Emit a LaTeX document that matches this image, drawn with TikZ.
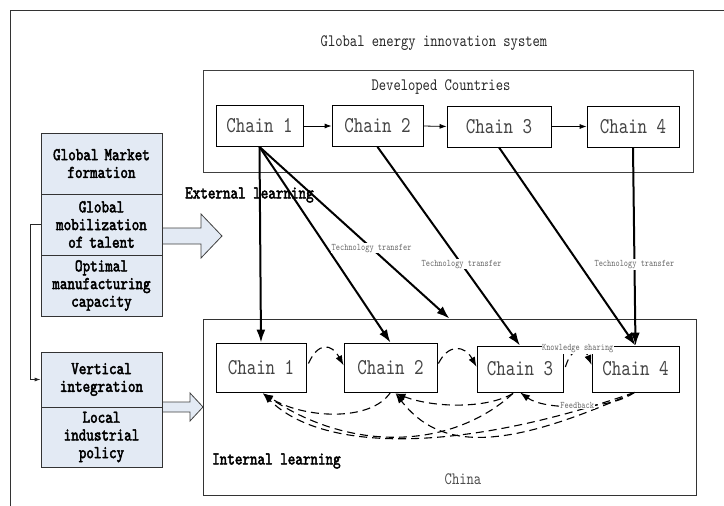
\documentclass[tikz,border=0pt]{standalone}
\usepackage{fontspec}
\usetikzlibrary{arrows.meta, calc}
\newfontfamily\dgfont[FakeStretch=0.8]{lmmono10-regular.otf}
\newfontfamily\dgbold[FakeStretch=0.8, FakeBold=2.5]{lmmono10-regular.otf}
\definecolor{boxblue}{HTML}{E3EAF4}
\definecolor{txtgray}{HTML}{444444}
\tikzset{
  chainbox/.style={draw, line width=0.8pt, inner sep=0pt, text=txtgray, font=\fontsize{22.6}{24}\dgfont},
  factbox/.style={draw=black!80, fill=boxblue, line width=0.8pt, minimum width=121, text width=118, align=center, inner sep=0pt, font=\fontsize{18}{17.7}\dgbold},
  plainlabel/.style={text=black!85, font=\fontsize{17.4}{18}\dgfont},
  boldlabel/.style={anchor=west, inner sep=0pt, font=\fontsize{18}{18}\dgbold},
  techarrow/.style={line width=2pt, -{Latex[length=13,width=9]}},
  techlabel/.style={pos=0.59, fill=white, inner sep=1pt, text=black!60, font=\fontsize{10}{10}\dgfont},
  smalllabel/.style={fill=white, inner sep=0.5pt, text=black!60, font=\fontsize{10}{10}\dgfont},
  fbline/.style={dash pattern=on 8pt off 5pt, line width=1.1pt, -{Latex[length=10,width=7]}},
  blockarrow/.style={draw=black!75, fill=boxblue, line width=0.8pt},
}
\begin{document}
\begin{tikzpicture}[x=1pt, y=-1pt]
\useasboundingbox (0,0) rectangle (724,506);
% outer frame
\draw[black!80, line width=0.8pt] (10.5,506) -- (10.5,10.5) -- (724,10.5);
\node[plainlabel] (title) at (434,43) {Global energy innovation system};

% developed countries
\node[draw=black!75, line width=0.8pt, minimum width=490, minimum height=102, inner sep=0pt] (dev) at (448,121) {};
\node[plainlabel] (devname) at (441,87) {Developed Countries};
\node[chainbox, minimum width=87, minimum height=41] (t1) at (259.5,126) {Chain 1};
\node[chainbox, minimum width=91, minimum height=41] (t2) at (377.5,126) {Chain 2};
\node[chainbox, minimum width=104, minimum height=41] (t3) at (499,126.5) {Chain 3};
\node[chainbox, minimum width=92, minimum height=41] (t4) at (633,126.5) {Chain 4};
\foreach \a/\b in {t1/t2, t2/t3, t3/t4}
  \draw[line width=0.8pt, -{Latex[length=7,width=5]}] (\a.east) -- (\b.west);

% china
\node[draw=black!80, line width=0.8pt, minimum width=493, minimum height=176, inner sep=0pt] (cn) at (449.5,407) {};
\node[plainlabel, text=black!70] (cnname) at (463,479) {China};
\node[chainbox, minimum width=90, minimum height=49] (b1) at (261,367.5) {Chain 1};
\node[chainbox, minimum width=93, minimum height=49] (b2) at (390.5,367.5) {Chain 2};
\node[chainbox, minimum width=86, minimum height=46] (b3) at (520,369) {Chain 3};
\node[chainbox, minimum width=87, minimum height=46] (b4) at (635.5,369) {Chain 4};

% left factors
\draw[blockarrow] (160,228) -- (201,228) -- (201,214) -- (222,236) -- (201,258) -- (201,244) -- (160,244) -- cycle;
\draw[blockarrow] (160,402) -- (190,402) -- (190,393) -- (203,407) -- (190,421) -- (190,412) -- (160,412) -- cycle;
\node[factbox, minimum height=61] (g1) at (101.5,163.5) {Global Market\\formation};
\node[factbox, minimum height=61] (g2) at (101.5,224.5) {Global\\mobilization\\of talent};
\node[factbox, minimum height=61] (g3) at (101.5,285.5) {Optimal\\manufacturing\\capacity};
\node[factbox, minimum height=55] (v1) at (101.5,379.5) {Vertical\\integration};
\node[factbox, minimum height=60] (v2) at (101.5,437) {Local\\industrial\\policy};
\draw[black!85, line width=0.8pt, -{Latex[length=6,width=4]}] (g2.west) -- ++(-10,0) |- (v1.west);

\node[boldlabel] (extlearn) at (185,195) {External learning};
\node[boldlabel] (intlearn) at (212,461) {Internal learning};

% technology transfer
\draw[techarrow] (t1.south) -- (b1.north);
\draw[techarrow] (t1.south) -- (b2.north);
\draw[techarrow] (t1.south) -- (cn.north) node[techlabel] {Technology transfer};
\draw[techarrow] (t3.south) -- (b4.north);
\draw[techarrow] (t2.south) -- (b3.north) node[techlabel] {Technology transfer};
\draw[techarrow] (t4.south) -- (b4.north) node[techlabel] {Technology transfer};

% knowledge sharing
\draw[fbline] ($(b1.east)+(2,-4)$) .. controls +(10,-22) and +(-12,-22) .. ($(b2.west)+(0,-2)$);
\draw[fbline] ($(b2.east)+(1,-4)$) .. controls +(10,-20) and +(-12,-22) .. ($(b3.west)+(0,-2)$);
\draw[fbline] ($(b3.east)+(2,-2)$) .. controls +(6,-20) and +(-8,-20) .. ($(b4.west)+(0,-4)$)
  node[smalllabel, pos=0.5, yshift=2] {Knowledge sharing};

% feedback
\draw[fbline] (b2.south) .. controls +(-20,30) and +(40,25) .. ($(b1.south)+(2,1)$);
\draw[fbline] ($(b3.south)+(-7,1)$) .. controls +(-25,15) and +(40,15) .. ($(b2.south)+(5,1)$);
\draw[fbline] ($(b3.south)+(-7,1)$) .. controls +(-60,55) and +(90,60) .. ($(b1.south)+(2,1)$);
\draw[fbline] ($(b4.south)+(-1,0)$) .. controls +(-130,58) and +(45,58) .. ($(b2.south)+(5,1)$);
\draw[fbline] ($(b4.south)+(-1,0)$) .. controls +(-172,60) and +(60,60) .. ($(b1.south)+(2,1)$);
\draw[fbline] ($(b4.south)+(-1,0)$) .. controls +(-25,18) and +(25,18) .. (b3.south)
  node[smalllabel, pos=0.5] {Feedback};
\end{tikzpicture}
\end{document}
